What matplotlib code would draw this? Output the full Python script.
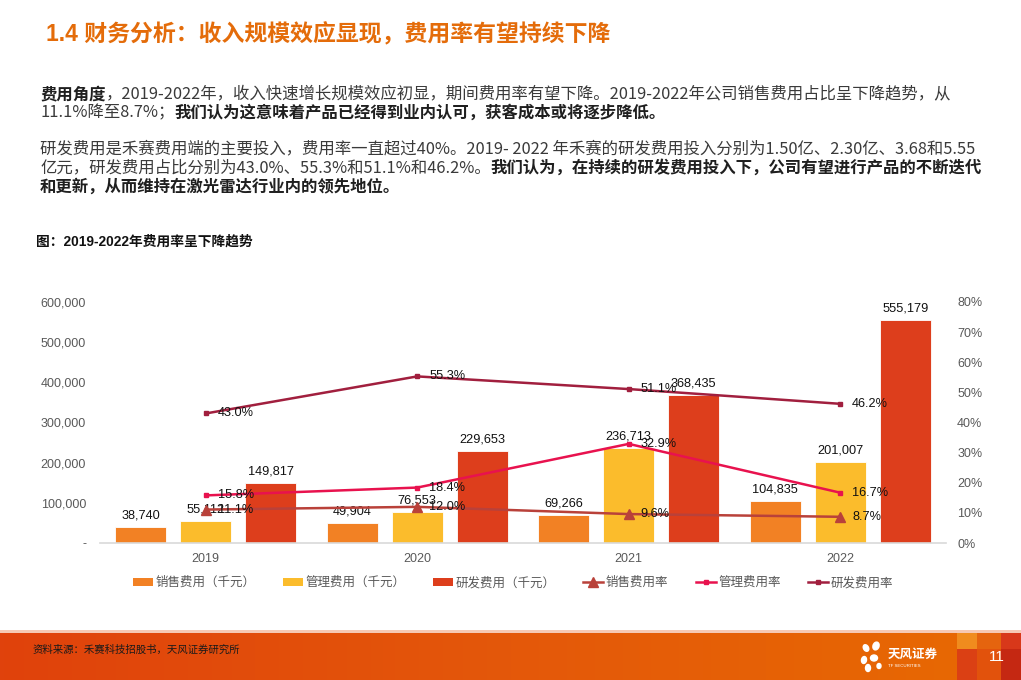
import matplotlib
matplotlib.use("Agg")
import matplotlib.pyplot as plt
import numpy as np
from matplotlib.patches import Rectangle, Ellipse, Patch
from matplotlib.lines import Line2D
from matplotlib.ticker import FuncFormatter

plt.rcParams['font.family'] = ['Liberation Sans', 'Noto Sans CJK SC', 'DejaVu Sans']

# ---------------- data ----------------
years = ['2019', '2020', '2021', '2022']
sales_exp = [38740, 49904, 69266, 104835]        # 销售费用（千元）
mgmt_exp = [55112, 76553, 236713, 201007]        # 管理费用（千元）
rd_exp = [149817, 229653, 368435, 555179]        # 研发费用（千元）
sales_rate = [11.1, 12.0, 9.6, 8.7]              # 销售费用率 %
mgmt_rate = [15.8, 18.4, 32.9, 16.7]             # 管理费用率 %
rd_rate = [43.0, 55.3, 51.1, 46.2]               # 研发费用率 %
left_ticks = [0, 100000, 200000, 300000, 400000, 500000, 600000]
right_ticks = [0, 10, 20, 30, 40, 50, 60, 70, 80]

title = "1.4 财务分析：收入规模效应显现，费用率有望持续下降"
caption = "图：2019-2022年费用率呈下降趋势"
source = "资料来源：禾赛科技招股书，天风证券研究所"
paras = [
    (94, [("费用角度", True), ("，2019-2022年，收入快速增长规模效应初显，期间费用率有望下降。2019-2022年公司销售费用占比呈下降趋势，从", False)]),
    (113, [("11.1%降至8.7%；", False), ("我们认为这意味着产品已经得到业内认可，获客成本或将逐步降低。", True)]),
    (149, [("研发费用是禾赛费用端的主要投入，费用率一直超过40%。2019- 2022 年禾赛的研发费用投入分别为1.50亿、2.30亿、3.68和5.55", False)]),
    (168, [("亿元，研发费用占比分别为43.0%、55.3%和51.1%和46.2%。", False), ("我们认为，在持续的研发费用投入下，公司有望进行产品的不断迭代", True)]),
    (187, [("和更新，从而维持在激光雷达行业内的领先地位。", True)]),
]

C_SALES = '#F28124'
C_MGMT = '#FBBC2C'
C_RD = '#DD3E1C'
C_SR = '#B9413A'
C_MR = '#E8124E'
C_RR = '#A11F3E'
GREY = '#595959'

W, H = 1021, 680
fig = plt.figure(figsize=(W / 100, H / 100), dpi=100)
fig.patch.set_facecolor('white')

# background/overlay axes in pixel coordinates
bg = fig.add_axes([0, 0, 1, 1], zorder=0)
bg.set_xlim(0, W)
bg.set_ylim(H, 0)
bg.axis('off')

# footer gradient band
grad = np.linspace(0, 1, 256)
cmap = matplotlib.colors.LinearSegmentedColormap.from_list('f', ['#E0420C', '#E4580A', '#E86A02'])
bg.imshow(grad[None, :], cmap=cmap, aspect='auto', extent=(0, W, 680, 633), zorder=1)
bg.add_patch(Rectangle((0, 630), W, 3, color='#F6C9B4', zorder=1, lw=0))
# right decorative squares
bg.add_patch(Rectangle((957, 633), 64, 47, color='#E2520C', lw=0, zorder=2))
bg.add_patch(Rectangle((957, 633), 20, 16, color='#F08C1E', lw=0, zorder=2))
bg.add_patch(Rectangle((977, 633), 24, 16, color='#E5640E', lw=0, zorder=2))
bg.add_patch(Rectangle((1001, 633), 20, 16, color='#D8381A', lw=0, zorder=2))
bg.add_patch(Rectangle((957, 649), 20, 31, color='#DB4014', lw=0, zorder=2))
bg.add_patch(Rectangle((1001, 649), 20, 31, color='#C52812', lw=0, zorder=2))
bg.text(997, 657, "11", color='white', fontsize=11, ha='center', va='center', zorder=3)
bg.text(33, 650, source, color='#1a1a1a', fontsize=7.5, ha='left', va='center', zorder=3)
# logo (simplified)
for (cx, cy, w, h, a) in [(866, 648, 5, 7, -30), (876, 646, 6, 8, 20), (864, 660, 5, 7, 10),
                          (874, 658, 7, 6, 0), (868, 668, 5, 7, 0), (879, 666, 4, 5, 0)]:
    bg.add_patch(Ellipse((cx, cy), w, h, angle=a, color='white', zorder=3))
bg.text(888, 655, "天风证券", color='white', fontsize=9, fontweight='bold', ha='left', va='center', zorder=3)
bg.text(888, 666, "TF SECURITIES", color='white', fontsize=3.2, ha='left', va='center', zorder=3)

# title, caption
bg.text(46, 35, title, color='#E46C0A', fontsize=16.5, fontweight='bold', ha='left', va='center', zorder=3)
bg.text(36, 242, caption, color='#111111', fontsize=9.9, fontweight='bold', ha='left', va='center', zorder=3)

renderer = fig.canvas.get_renderer()
for y, runs in paras:
    x = 40
    for txt, bold in runs:
        t = bg.text(x, y, txt, fontsize=11.8, fontweight='bold' if bold else 'normal',
                    color='#1f1f1f' if bold else '#3a3a3a', ha='left', va='center', zorder=3,
                    family=['Noto Sans CJK SC', 'DejaVu Sans'])
        bb = t.get_window_extent(renderer)
        x += bb.width

# ---------------- chart ----------------
L, R, T, B = 100, 946, 302, 543
ax = fig.add_axes([L / W, 1 - B / H, (R - L) / W, (B - T) / H], zorder=2)
ax.patch.set_alpha(0)
x = np.arange(len(years))
bw = 0.24
off = 0.307
b1 = ax.bar(x - off, sales_exp, bw, color=C_SALES, edgecolor='white', linewidth=0.6, zorder=2)
b2 = ax.bar(x, mgmt_exp, bw, color=C_MGMT, edgecolor='white', linewidth=0.6, zorder=2)
b3 = ax.bar(x + off, rd_exp, bw, color=C_RD, edgecolor='white', linewidth=0.6, zorder=2)
for bars, vals in [(b1, sales_exp), (b2, mgmt_exp), (b3, rd_exp)]:
    for rect, v in zip(bars, vals):
        ax.annotate(f"{v:,}", (rect.get_x() + rect.get_width() / 2, v), xytext=(0, 4),
                    textcoords='offset points', ha='center', va='bottom', fontsize=9.2, color='#111111', zorder=5)
ax.set_xlim(-0.5, len(years) - 0.5)
ax.set_ylim(0, 600000)
ax.set_yticks(left_ticks)
ax.yaxis.set_major_formatter(FuncFormatter(lambda v, p: '-' if v == 0 else f"{int(v):,}"))
ax.set_xticks(x)
ax.set_xticklabels(years)
ax.tick_params(axis='both', length=0, colors=GREY, labelsize=9)
ax.tick_params(axis='y', pad=10)
ax.tick_params(axis='x', pad=7)
for s in ['top', 'left', 'right']:
    ax.spines[s].set_visible(False)
ax.spines['bottom'].set_color('#D9D9D9')
ax.spines['bottom'].set_linewidth(1.2)

ax2 = ax.twinx()
ax2.set_zorder(3)
ax2.patch.set_alpha(0)
ax2.set_ylim(0, 80)
ax2.set_yticks(right_ticks)
ax2.yaxis.set_major_formatter(FuncFormatter(lambda v, p: f"{int(v)}%"))
ax2.tick_params(axis='y', length=0, colors=GREY, labelsize=9, pad=8)
for s in ['top', 'left', 'right', 'bottom']:
    ax2.spines[s].set_visible(False)
ax2.plot(x, sales_rate, color=C_SR, lw=1.8, marker='^', ms=7, zorder=4)
ax2.plot(x, mgmt_rate, color=C_MR, lw=1.8, marker='s', ms=3.5, zorder=4)
ax2.plot(x, rd_rate, color=C_RR, lw=1.8, marker='s', ms=3, zorder=4)
for vals in [sales_rate, mgmt_rate, rd_rate]:
    for xi, v in zip(x, vals):
        ax2.annotate(f"{v:.1f}%", (xi, v), xytext=(8.5, 0), textcoords='offset points',
                     ha='left', va='center', fontsize=9.2, color='#111111', zorder=6)

handles = [
    Patch(facecolor=C_SALES, label='销售费用（千元）'),
    Patch(facecolor=C_MGMT, label='管理费用（千元）'),
    Patch(facecolor=C_RD, label='研发费用（千元）'),
    Line2D([], [], color=C_SR, lw=1.8, marker='^', ms=7, label='销售费用率'),
    Line2D([], [], color=C_MR, lw=1.8, marker='s', ms=3.5, label='管理费用率'),
    Line2D([], [], color=C_RR, lw=1.8, marker='s', ms=3, label='研发费用率'),
]
leg = fig.legend(handles=handles, loc='center', bbox_to_anchor=(513 / W, 1 - 583 / H), ncol=6,
                 frameon=False, fontsize=9, handlelength=1.6, handleheight=0.6, handletextpad=0.2,
                 columnspacing=2.2, labelcolor=GREY)

fig.savefig('out.png', dpi=100)
